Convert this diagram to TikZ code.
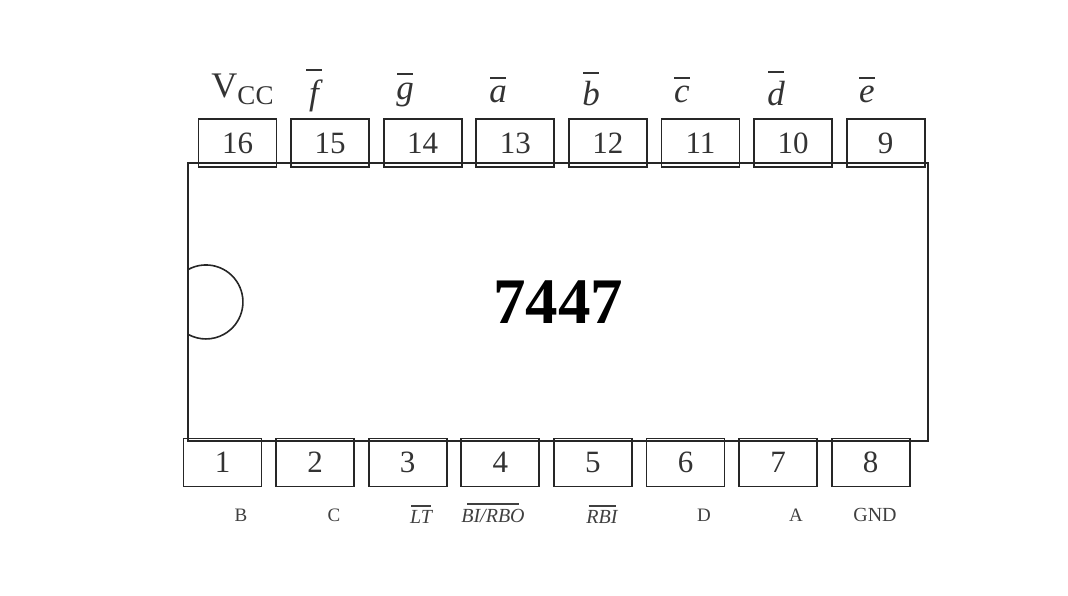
\documentclass[tikz,border=0pt]{standalone}
\usepackage{fontspec}
\setmainfont{Liberation Serif}
\usetikzlibrary{positioning}
\tikzset{
  chipline/.style={draw=black!85,line width=1.7pt,inner sep=0pt,outer sep=0pt},
  pinbox/.style={chipline,minimum width=78pt,minimum height=48pt,font=\fontsize{31}{31}\selectfont,text=black!80},
  toplabel/.style={anchor=base,inner sep=0pt,font=\fontsize{35}{35}\selectfont\itshape,text=black!80},
  botlabel/.style={anchor=base,inner sep=0pt,font=\fontsize{19}{19}\selectfont,text=black!75},
  barlabel/.style={botlabel,font=\fontsize{20}{20}\selectfont\itshape}
}
% text, height of the bar above the baseline, width of the bar
\newcommand{\barred}[3]{\sbox0{#1}\rlap{\hbox to \wd0{\hss\raisebox{#2}[0pt][0pt]{\rule{#3}{1.8pt}}\hss}}\usebox0}
\begin{document}
\begin{tikzpicture}[x=1pt,y=-1pt]
\useasboundingbox (0,0) rectangle (1068,596);
%Chip
\node[chipline,minimum width=740pt,minimum height=278pt,font=\fontsize{65}{65}\selectfont\bfseries] (body) at (558,302) {7447};
\draw[black!85,line width=1.6pt] (body.west) ++(0,-32.4) arc[start angle=-119,end angle=119,radius=37];
%Pins
\pgfmathsetmacro{\pitch}{92.6}
\foreach \n [count=\i from 0] in {16,15,...,9}{
  \node[pinbox] (pin\n) at (237.5+\i*\pitch,143) {\n};
}
\foreach \n [count=\i from 0] in {1,...,8}{
  \node[pinbox] (pin\n) at (222.5+\i*\pitch,462.5) {\n};
}
%Labels
\node[anchor=base,inner sep=0pt,text=black!80] (vcc) at (242.5,98) {\fontsize{36}{36}\selectfont V\raisebox{-7pt}{\fontsize{27}{27}\selectfont CC}};
\foreach \name/\xpos/\ypos/\barh in {f/314/105/34pt,g/405/100/25pt,a/498/103/24pt,b/591/106/32pt,c/682/103/24pt,d/776/106/33pt,e/867/103/24pt}{
  \node[toplabel] (top\name) at (\xpos,\ypos) {\barred{\name}{\barh}{16pt}};
}
\node[botlabel] (inB) at (241,521) {B};
\node[botlabel] (inC) at (334,521) {C};
\node[barlabel] (inLT) at (421,523) {\barred{LT}{16pt}{20pt}};
\node[barlabel] (inBI) at (493,522) {\barred{BI/RBO}{17pt}{52pt}};
\node[barlabel] (inRBI) at (602,523) {\barred{RBI}{16pt}{27pt}};
\node[botlabel] (inD) at (704,521) {D};
\node[botlabel] (inA) at (796,521) {A};
\node[botlabel,font=\fontsize{20}{20}\selectfont] (gnd) at (875,521) {GND};
\end{tikzpicture}
\end{document}
